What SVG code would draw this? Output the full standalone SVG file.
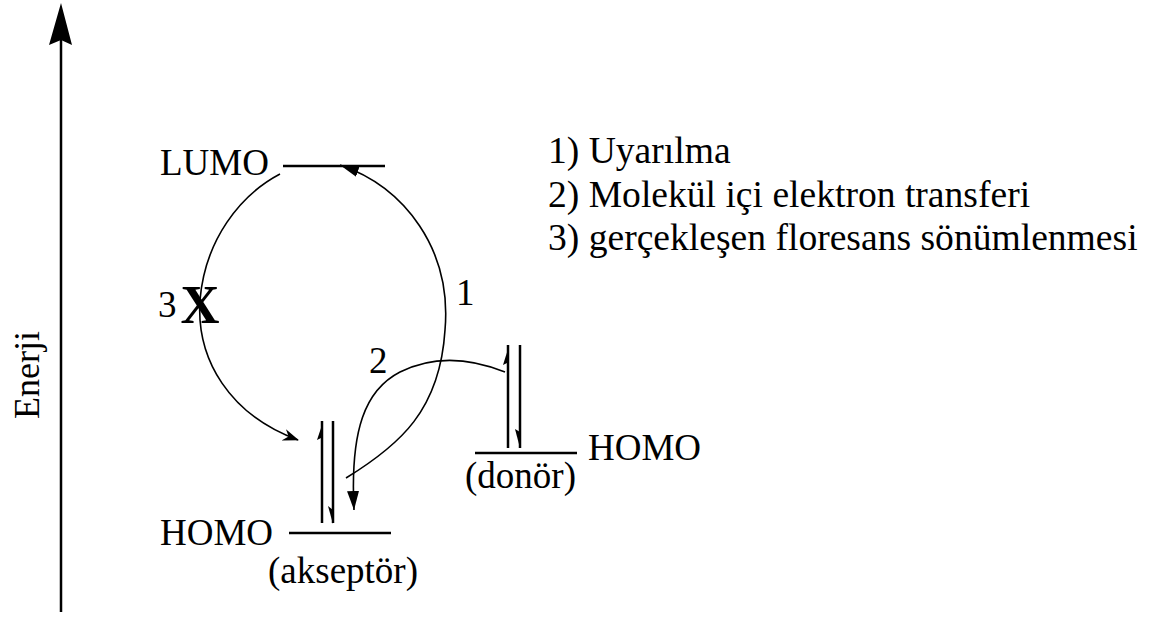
<svg xmlns="http://www.w3.org/2000/svg" width="1173" height="619" viewBox="0 0 1173 619">
<style>
text{font-family:"Liberation Serif","Times New Roman",serif;fill:#000;font-size:37px}
text.big{font-size:54px;font-weight:bold}
text.axl{font-size:36px}
text.leg{font-size:37.6px}
.lvl{stroke:#000;stroke-width:2.5;fill:none}
.con{stroke:#000;stroke-width:1.6;fill:none}
.head{fill:#000;stroke:none}
</style>
<defs>
<marker id="arr" markerWidth="16" markerHeight="12" refX="15" refY="6" orient="auto" markerUnits="userSpaceOnUse">
<path d="M0,0 L16,6 L0,12 L5,6 Z" fill="#000"/>
</marker>
<marker id="arrf" markerWidth="20" markerHeight="14" refX="19" refY="7" orient="auto" markerUnits="userSpaceOnUse">
<path d="M0,1 L19,7 L0,13 Z" fill="#000"/>
</marker>
</defs>
<rect width="1173" height="619" fill="#fff"/>
<g id="axis">
<line x1="61" y1="612" x2="61" y2="40" stroke="#000" stroke-width="2.5"/>
<polygon class="head" points="61,3 72,45 61,40 49,45"/>
<text class="axl" transform="translate(39,375) rotate(-90)" text-anchor="middle">Enerji</text>
</g>
<g id="lumo">
<line class="lvl" x1="283" y1="166" x2="385" y2="166"/>
<text x="160" y="175">LUMO</text>
</g>
<g id="acceptor">
<line class="lvl" x1="289" y1="533" x2="391" y2="533"/>
<line class="lvl" x1="322" y1="421" x2="322" y2="523"/>
<line class="lvl" x1="333" y1="421" x2="333" y2="523"/>
<polygon class="head" points="323,422 317,440 323,437"/>
<polygon class="head" points="333,524 328,506 333,510"/>
<text x="160" y="545">HOMO</text>
<text x="268" y="583">(akseptör)</text>
</g>
<g id="donor">
<line class="lvl" x1="475" y1="453" x2="577" y2="453"/>
<line class="lvl" x1="508" y1="345" x2="508" y2="448"/>
<line class="lvl" x1="520" y1="345" x2="520" y2="448"/>
<polygon class="head" points="509,346 503,365 509,362"/>
<polygon class="head" points="520,448 515,429 520,432"/>
<text x="588" y="460">HOMO</text>
<text x="465" y="488">(donör)</text>
</g>
<g id="connectors">
<path id="c1" class="con" d="M346,478 C400,445 440,410 445,330 C452,250 405,187 340,165" marker-end="url(#arrf)"/>
<path id="c2" class="con" d="M505,372 C480,362 440,352 400,372 C365,390 350,430 354,510" marker-end="url(#arrf)"/>
<path id="c3" class="con" d="M280,174 C240,195 205,240 200,300 C196,360 230,415 298,440" marker-end="url(#arr)"/>
</g>
<g id="labels">
<text x="158" y="317">3</text>
<text class="big" x="200" y="323" text-anchor="middle">X</text>
<text x="456" y="305">1</text>
<text x="369" y="373">2</text>
</g>
<g id="legend">
<text class="leg" x="548" y="163">1) Uyarılma</text>
<text class="leg" x="548" y="207">2) Molekül içi elektron transferi</text>
<text class="leg" x="548" y="250">3) gerçekleşen floresans sönümlenmesi</text>
</g>
</svg>
